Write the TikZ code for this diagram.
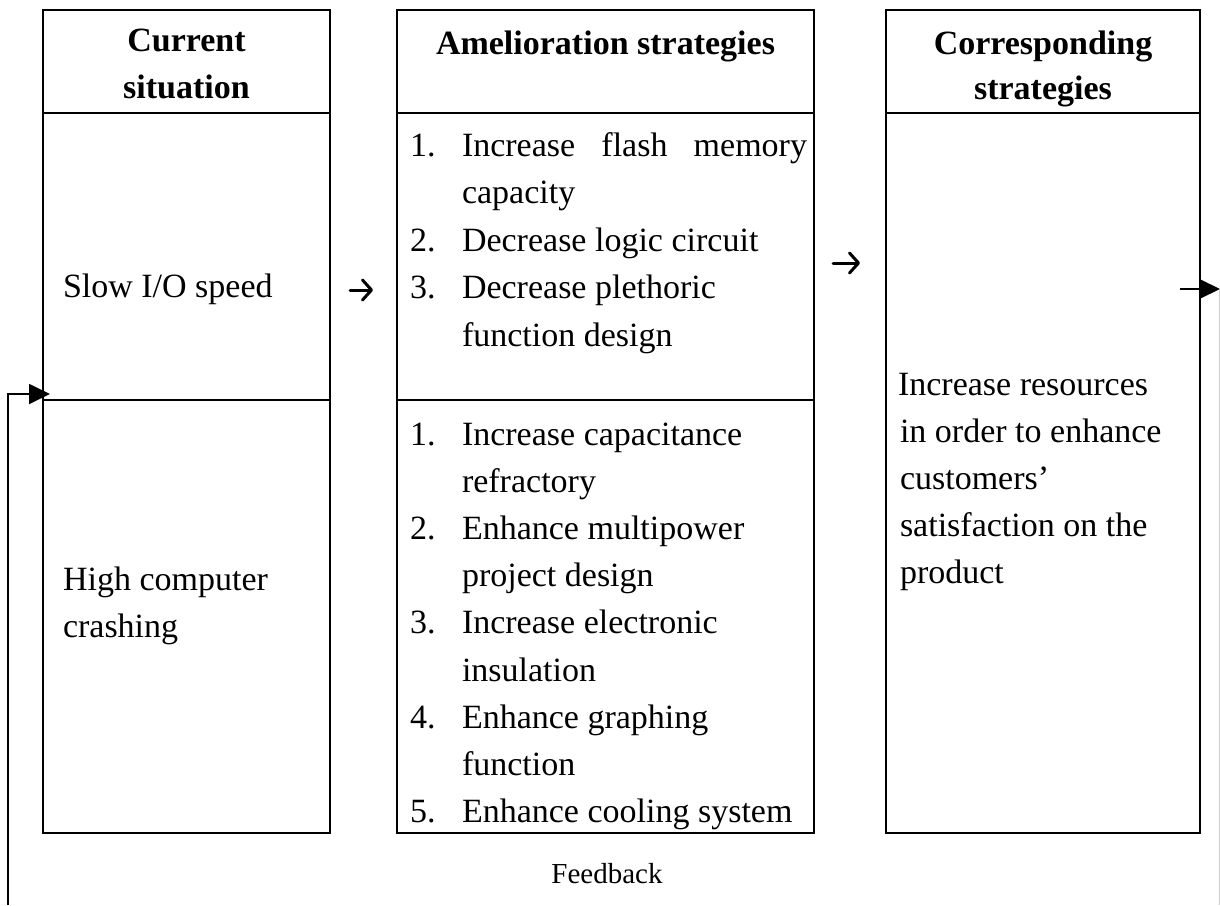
\documentclass[tikz,border=0pt]{standalone}
\usepackage{fontspec}
\setmainfont{Liberation Serif}
\usetikzlibrary{arrows.meta}
\begin{document}
\begin{tikzpicture}[x=1pt,y=-1pt,
  every node/.style={inner sep=0pt, outer sep=0pt, font=\fontsize{34}{47}\selectfont},
  colbox/.style={draw, rectangle, line width=2.6pt, anchor=north west},
  rule/.style={line width=2.6pt},
  txt/.style={anchor=base west},
  head/.style={anchor=base, font=\fontsize{34}{47}\selectfont\bfseries},
  glypharrow/.style={line width=3pt, line cap=round, -{Straight Barb[length=9pt,width=20pt,round]}},
  fb/.style={line width=1.8pt},
  fbtip/.style={-{Triangle[length=21pt,width=20pt]}},
]
\useasboundingbox (0,0) rectangle (1220,905);

% ---- the three columns
\node[colbox, minimum width=287pt, minimum height=823pt] (cur) at (43,10) {};
\node[colbox, minimum width=417pt, minimum height=823pt] (ame) at (397,10) {};
\node[colbox, minimum width=314pt, minimum height=823pt] (cor) at (886,10) {};

% header rules and row rules
\draw[rule] (cur.west |- 0,113) -- (cur.east |- 0,113);
\draw[rule] (ame.west |- 0,113) -- (ame.east |- 0,113);
\draw[rule] (cor.west |- 0,113) -- (cor.east |- 0,113);
\draw[rule] (cur.west |- 0,400) -- (cur.east |- 0,400);
\draw[rule] (ame.west |- 0,400) -- (ame.east |- 0,400);

% ---- headers
\node[head] (h1a) at (186.5,51) {Current};
\node[head] (h1b) at (186.5,98) {situation};
\node[head] (h2)  at (605.5,54) {Amelioration strategies};
\node[head] (h3a) at (1043,54) {Corresponding};
\node[head] (h3b) at (1043,99) {strategies};

% ---- current situation
\node[txt] (s1)  at (63,297) {Slow I/O speed};
\node[txt] (s2a) at (63,590) {High computer};
\node[txt] (s2b) at (63,637) {crashing};

% ---- amelioration strategies, first group
\node[txt] (a1n) at (410,156) {1.};
\node[txt] (a1)  at (462,156) {\makebox[345pt][s]{Increase\hfill flash\hfill memory}};
\node[txt] (a1c) at (462,203) {capacity};
\node[txt] (a2n) at (410,251) {2.};
\node[txt] (a2)  at (462,251) {Decrease logic circuit};
\node[txt] (a3n) at (410,298) {3.};
\node[txt] (a3)  at (462,298) {Decrease plethoric};
\node[txt] (a3c) at (462,346) {function design};

% ---- amelioration strategies, second group
\node[txt] (b1n) at (410,445) {1.};
\node[txt] (b1)  at (462,445) {Increase capacitance};
\node[txt] (b1c) at (462,492) {refractory};
\node[txt] (b2n) at (410,539) {2.};
\node[txt] (b2)  at (462,539) {Enhance multipower};
\node[txt] (b2c) at (462,586) {project design};
\node[txt] (b3n) at (410,633) {3.};
\node[txt] (b3)  at (462,633) {Increase electronic};
\node[txt] (b3c) at (462,681) {insulation};
\node[txt] (b4n) at (410,728) {4.};
\node[txt] (b4)  at (462,728) {Enhance graphing};
\node[txt] (b4c) at (462,775) {function};
\node[txt] (b5n) at (410,822) {5.};
\node[txt] (b5)  at (462,822) {Enhance cooling system};

% ---- corresponding strategies
\node[txt] (c1) at (898,395) {Increase resources};
\node[txt] (c2) at (900,442) {in order to enhance};
\node[txt] (c3) at (900,489) {customers’};
\node[txt] (c4) at (900,536) {satisfaction on the};
\node[txt] (c5) at (900,583) {product};

% ---- arrows between the columns
\coordinate (g1s) at (350,290);
\coordinate (g1e) at (373,290);
\coordinate (g2s) at (833,263);
\coordinate (g2e) at (860,263);
\draw[glypharrow] (g1s) -- (g1e);
\draw[glypharrow] (g2s) -- (g2e);

% ---- feedback loop
\coordinate (fbL)  at (8,905);
\coordinate (inL)  at (50,394);
\coordinate (outS) at (1180,289);
\coordinate (outE) at (1220,289);
\coordinate (fbRt) at (1219.5,289);
\coordinate (fbRb) at (1219.5,905);
\draw[fb, fbtip] (fbL) |- (inL);
\draw[fb, fbtip] (outS) -- (outE);
\draw[gray!40, line width=1pt] (fbRt) -- (fbRb);
\node[font=\fontsize{29}{34}\selectfont] (fbt) at (607,874) {Feedback};
\end{tikzpicture}
\end{document}
